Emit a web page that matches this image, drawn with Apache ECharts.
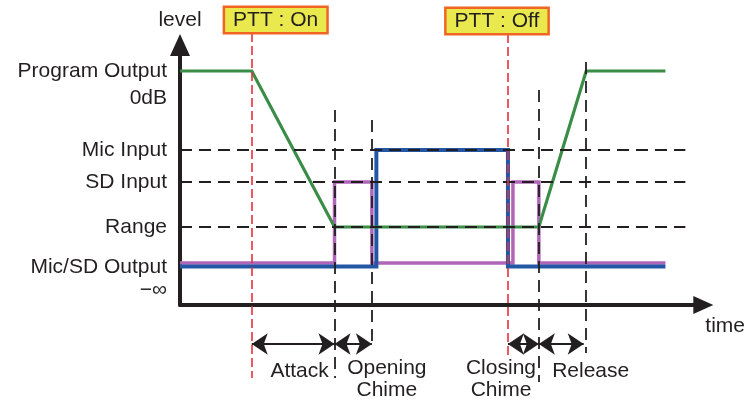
<!DOCTYPE html>
<html>
<head>
<meta charset="utf-8">
<script src="https://cdn.jsdelivr.net/npm/echarts@6/dist/echarts.min.js"></script>
<style>
	html, body { margin: 0; padding: 0; background: #fff; }
	#chart { width: 748px; height: 403px; }
</style>
</head>
<body>
<div id="chart"></div>
<script>
// level axis labels
const levelNames = ['Program Output', '0dB', 'Mic Input', 'SD Input', 'Range', 'Mic/SD Output', '\u2212\u221e'];
const levelValues = [58.5, 51.75, 38.75, 30.75, 19.5, 9.5, 3.75];

// signal traces, [time, level]
const programOutput = [[0, 58.5], [14.4, 58.5], [31, 19.5], [72, 19.5], [81.5, 58.5], [97.4, 58.5]];
const micOutput = [[0, 9.6], [39.4, 9.6], [39.4, 38.75], [65.8, 38.75], [65.8, 9.6], [97.4, 9.6]];
const sdOutput = [[0, 10.5], [31, 10.5], [31, 30.75], [38.5, 30.75], [38.5, 10.5], [66.8, 10.5], [66.8, 30.75], [72, 30.75], [72, 10.5], [97.4, 10.5]];

// guide lines: levels, and [time, top, bottom] for the markers
const guideLevels = [38.75, 30.75, 19.5];
const guideEnd = 101.4;
const phaseMarks = [[31, 48.75, -18.25], [38.5, 46.25, -10.75], [72, 53.75, -19.25], [81.5, 60.75, -12]];
const pttMarks = [[14.4, 68, -18.25], [65.8, 67.75, -12.5]];

// PTT switch labels
const pttNames = ['PTT : On', 'PTT : Off'];
const pttLabelPos = [[19.2, 71.25], [63.6, 71]];

// phase spans under the time axis
const spanLevel = -9.75;
const spans = [[14.4, 31], [31, 38.5], [65.8, 72], [72, 81]];
const spanNames = ['Attack', 'Opening\nChime', 'Closing\nChime', 'Release'];
const spanLabelPos = [[24, -16.5], [41.5, -18.6], [64.4, -18.6], [82.4, -16.5]];

const FONT = "'Liberation Sans', Arial, sans-serif";
const INK = '#231f20';

function segments(list) {
	return list.map(function (m) {
		return { coords: [[m[0], m[1]], [m[0], m[2]]] };
	});
}

function textPoints(names, pos) {
	return pos.map(function (p, i) {
		return { value: p, name: names[i] };
	});
}

function traceSeries(name, data, color, width) {
	return {
		name: name,
		type: 'line',
		data: data,
		symbol: 'none',
		z: 2,
		clip: false,
		lineStyle: { color: color, width: width, join: 'miter' }
	};
}

function textSeries(data, label) {
	return {
		type: 'scatter',
		clip: false,
		silent: true,
		z: 5,
		symbolSize: 1,
		itemStyle: { color: 'transparent', opacity: 1 },
		label: Object.assign({
			show: true,
			position: 'inside',
			formatter: '{b}',
			fontFamily: FONT,
			fontSize: 21,
			color: INK,
			opacity: 1
		}, label),
		data: data
	};
}

const chart = echarts.init(document.getElementById('chart'));

chart.setOption({
	animation: false,
	textStyle: { fontFamily: FONT, color: INK },
	grid: { left: 180, right: 43, top: 45, bottom: 98 },
	xAxis: {
		type: 'value',
		min: 0,
		max: 105,
		name: 'time',
		nameLocation: 'end',
		nameGap: 2,
		nameTextStyle: { fontFamily: FONT, fontSize: 21, color: INK, align: 'left', verticalAlign: 'top', padding: [11, 0, 0, 0] },
		axisLine: { lineStyle: { color: INK, width: 4 }, symbol: ['none', 'triangle'], symbolSize: [18, 20] },
		axisTick: { show: false },
		axisLabel: { show: false },
		splitLine: { show: false }
	},
	yAxis: {
		type: 'value',
		min: 0,
		max: 65,
		name: 'level',
		nameLocation: 'end',
		nameGap: 14,
		nameTextStyle: { fontFamily: FONT, fontSize: 21, color: INK },
		axisLine: { lineStyle: { color: INK, width: 4 }, symbol: ['none', 'triangle'], symbolSize: [20, 22] },
		axisTick: { show: false },
		splitLine: { show: false },
		axisLabel: {
			customValues: levelValues,
			margin: 13,
			fontFamily: FONT,
			fontSize: 21,
			color: INK,
			formatter: function (v) {
				return levelNames[levelValues.indexOf(v)];
			}
		}
	},
	series: [
		traceSeries('SD', sdOutput, '#b066b8', 3.5),
		traceSeries('Mic', micOutput, '#2456a6', 4),
		traceSeries('Program', programOutput, '#3a8d46', 3.2),
		{
			type: 'lines',
			coordinateSystem: 'cartesian2d',
			z: 3,
			clip: false,
			silent: true,
			symbol: 'none',
			lineStyle: { color: INK, width: 1.8, type: [12, 7], opacity: 1 },
			data: guideLevels.map(function (l) {
				return { coords: [[0, l], [guideEnd, l]] };
			}).concat(segments(phaseMarks))
		},
		{
			type: 'lines',
			coordinateSystem: 'cartesian2d',
			z: 4,
			clip: false,
			silent: true,
			symbol: 'none',
			lineStyle: { color: '#e8303a', width: 1.6, type: [9, 4], opacity: 1 },
			data: segments(pttMarks)
		},
		{
			type: 'lines',
			coordinateSystem: 'cartesian2d',
			z: 4,
			clip: false,
			silent: true,
			symbol: ['arrow', 'arrow'],
			symbolSize: 16,
			lineStyle: { color: INK, width: 2, type: 'solid', opacity: 1 },
			data: spans.map(function (s) {
				return { coords: [[s[0], spanLevel], [s[1], spanLevel]] };
			})
		},
		textSeries(textPoints(pttNames, pttLabelPos), {
			lineHeight: 21,
			backgroundColor: '#e9e84c',
			borderColor: '#f06524',
			borderWidth: 2.5,
			padding: [2, 8, 1, 8]
		}),
		textSeries(textPoints(spanNames, spanLabelPos), {
			lineHeight: 22,
			align: 'center'
		})
	]
});
</script>
</body>
</html>
